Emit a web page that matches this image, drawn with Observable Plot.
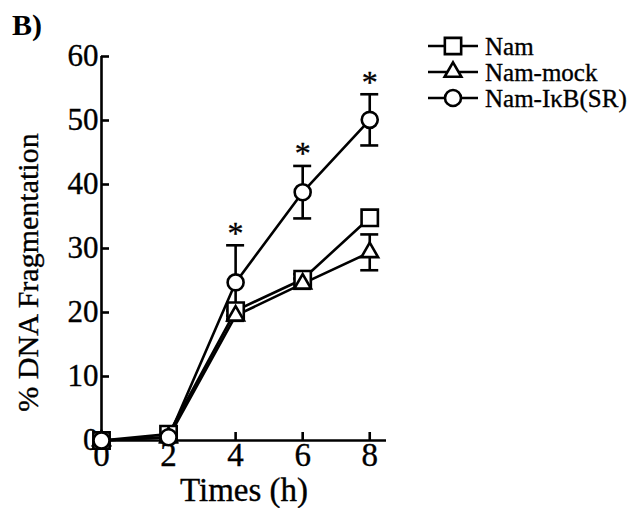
<!DOCTYPE html>
<html>
<head>
<meta charset="utf-8">
<script src="https://cdn.jsdelivr.net/npm/d3@7"></script>
<script src="https://cdn.jsdelivr.net/npm/@observablehq/plot@0.6"></script>
<style>
  html, body { margin: 0; padding: 0; background: #fff; }
  #wrap { position: relative; width: 641px; height: 508px; font-family: "Liberation Serif", serif; color: #000; }
  #panel { position: absolute; left: 12px; top: 10px; font-size: 30px; font-weight: bold; line-height: 1; }
  #legend { position: absolute; left: 427px; top: 33px; font-size: 25px; line-height: 1; }
  .row { display: flex; align-items: center; height: 26px; }
  .row svg { flex: none; margin-right: 6px; }
  #chart svg text { stroke: #000; stroke-width: 0.35px; }
  #legend span { -webkit-text-stroke: 0.35px #000; }
</style>
</head>
<body>
<div id="wrap">
  <div id="chart"></div>
  <div id="panel">B)</div>
  <div id="legend"></div>
</div>
<script>
// ---- data ----
const times = [0, 2, 4, 6, 8];
const seriesNames = ["Nam", "Nam-mock", "Nam-IκB(SR)"];
const namValues  = [0, 1.0, 20.3, 25.2, 34.8];
const mockValues = [0, 0.5, 19.5, 24.5, 29.4];
const srValues   = [0, 0.5, 24.7, 38.8, 50.1];
const namErr  = [0, 0, 0.8, 0.8, 0];
const mockErr = [0, 0, 0.8, 0.8, 2.8];
const srErr   = [0, 0, 5.8, 4.1, 4.0];
const significantTimes = [4, 6, 8];
const xTicks = [0, 2, 4, 6, 8];
const yTicks = [0, 10, 20, 30, 40, 50, 60];
const xLabel = "Times (h)";
const yLabel = "% DNA Fragmentation";

const valueSets = [namValues, mockValues, srValues];
const errSets = [namErr, mockErr, srErr];
const symbols = ["square", "triangle", "circle"];
const radii = [9.2, 6.2, 8];

const rows = [];
seriesNames.forEach((s, k) => times.forEach((t, i) => {
  rows.push({series: s, time: t, value: valueSets[k][i], err: errSets[k][i]});
}));
const errRows = rows.filter(d => d.err > 0).map(d => ({...d, lo: d.value - d.err, hi: d.value + d.err}));
const starRows = errRows.filter(d => d.series === seriesNames[2] && significantTimes.includes(d.time));

const font = "Liberation Serif";
const sw = 2.6;

const chart = Plot.plot({
  width: 641,
  height: 508,
  marginLeft: 101,
  marginRight: 255,
  marginTop: 56,
  marginBottom: 68,
  style: {fontFamily: font, background: "#fff", color: "#000", overflow: "visible"},
  x: {domain: [0, 8.5]},
  y: {domain: [0, 60]},
  marks: [
    Plot.ruleX([0], {stroke: "#000", strokeWidth: sw}),
    Plot.ruleY([0], {stroke: "#000", strokeWidth: sw}),
    Plot.ruleY(yTicks, {y: d => d, x1: 0, x2: 0, insetRight: -8, stroke: "#000", strokeWidth: sw}),
    Plot.ruleX(xTicks, {x: d => d, y1: 0, y2: 0, insetTop: -8, stroke: "#000", strokeWidth: sw}),
    Plot.axisX({ticks: xTicks, tickSize: 0, tickPadding: 2, fontSize: 33, label: null, tickFormat: d => String(d)}),
    Plot.axisY({ticks: yTicks, tickSize: 0, tickPadding: 3, fontSize: 31, label: null, tickFormat: d => String(d)}),
    Plot.ruleX(errRows, {x: "time", y1: "lo", y2: "hi", stroke: "#000", strokeWidth: sw}),
    Plot.ruleY(errRows, {y: "hi", x1: "time", x2: "time", insetLeft: -9, insetRight: -9, stroke: "#000", strokeWidth: sw}),
    Plot.ruleY(errRows, {y: "lo", x1: "time", x2: "time", insetLeft: -9, insetRight: -9, stroke: "#000", strokeWidth: sw}),
    Plot.line(rows, {x: "time", y: "value", z: "series", stroke: "#000", strokeWidth: sw}),
    ...seriesNames.map((s, k) => Plot.dot(rows.filter(d => d.series === s), {
      x: "time", y: "value", symbol: () => symbols[k], r: radii[k], fill: "#fff", stroke: "#000", strokeWidth: sw
    })),
    Plot.text(starRows, {x: "time", y: "hi", text: () => "*", dy: -12, fontSize: 32, fill: "#000"}),
    Plot.text([xLabel], {frameAnchor: "bottom", textAnchor: "middle", lineAnchor: "middle", text: d => d, dy: 50, fontSize: 33, fill: "#000"}),
    Plot.text([yLabel], {frameAnchor: "left", textAnchor: "middle", lineAnchor: "middle", text: d => d, rotate: -90, dx: -73, dy: 24, fontSize: 30, fill: "#000"})
  ]
});
document.getElementById("chart").appendChild(chart);

// legend
const legend = document.getElementById("legend");
seriesNames.forEach((s, k) => {
  const row = document.createElement("div");
  row.className = "row";
  const svg = d3.create("svg").attr("width", 52).attr("height", 26);
  svg.append("line").attr("x1", 1).attr("x2", 51).attr("y1", 13).attr("y2", 13).attr("stroke", "#000").attr("stroke-width", sw);
  const sym = {square: d3.symbolSquare, triangle: d3.symbolTriangle, circle: d3.symbolCircle}[symbols[k]];
  svg.append("path").attr("transform", "translate(26,13)")
    .attr("d", d3.symbol(sym, Math.PI * radii[k] * radii[k])())
    .attr("fill", "#fff").attr("stroke", "#000").attr("stroke-width", sw);
  row.appendChild(svg.node());
  const span = document.createElement("span");
  span.textContent = s;
  row.appendChild(span);
  legend.appendChild(row);
});
</script>
</body>
</html>
